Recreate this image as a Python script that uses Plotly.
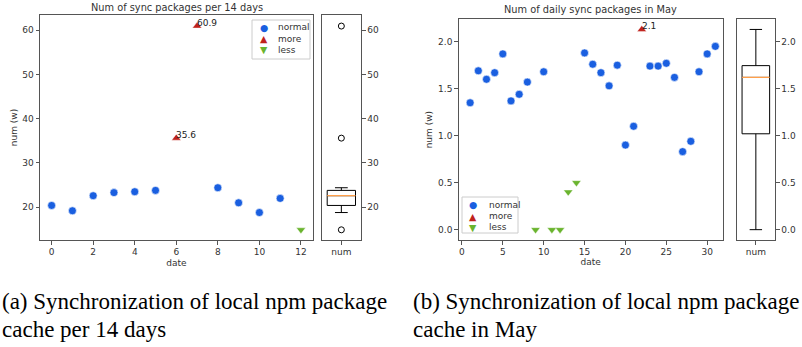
import numpy as np
import plotly.graph_objects as go

W, H = 802, 347

# ---- data: (a) per 14 days ----
a_normal_x = [0, 1, 2, 3, 4, 5, 8, 9, 10, 11]
a_normal_y = [20.4, 19.2, 22.6, 23.3, 23.5, 23.8, 24.4, 21.0, 18.8, 22.0]
a_more_x = [6, 7]
a_more_y = [35.6, 60.9]
a_less_x = [12]
a_less_y = [14.9]

# ---- data: (b) daily in May ----
b_normal_x = [1, 2, 3, 4, 5, 6, 7, 8, 10, 15, 16, 17, 18, 19, 20, 21, 23, 24, 25, 26, 27, 28, 29, 30, 31]
b_normal_y = [1.35, 1.69, 1.60, 1.67, 1.87, 1.37, 1.44, 1.57, 1.68, 1.88, 1.76, 1.67, 1.53, 1.75,
              0.90, 1.10, 1.74, 1.74, 1.77, 1.62, 0.83, 0.94, 1.68, 1.87, 1.95]
b_more_x = [22]
b_more_y = [2.13]
b_less_x = [9, 11, 12, 13, 14]
b_less_y = [0.0, 0.0, 0.0, 0.40, 0.50]

a_ticks_x = [0, 2, 4, 6, 8, 10, 12]
a_ticks_y = [20, 30, 40, 50, 60]
b_ticks_x = [0, 5, 10, 15, 20, 25, 30]
b_ticks_y = [0.0, 0.5, 1.0, 1.5, 2.0]

title_a = "Num of sync packages per 14 days"
title_b = "Num of daily sync packages in May"
cap_a = ["(a) Synchronization of local npm package", "cache per 14 days"]
cap_b = ["(b) Synchronization of local npm package", "cache in May"]
series_names = ["normal", "more", "less"]

BLUE = "#1a5fe0"
RED = "#c0221c"
GREEN = "#6ab42e"
COLORS = [BLUE, RED, GREEN]
GLYPHS = ["\u25CF", "\u25B2", "\u25BC"]
AX = "#555555"
TXT = "#333333"
FONT = "DejaVu Sans"


def px(x):
    return x / W


def py(y):
    return 1 - y / H


fig = go.Figure()


def scatter_set(xa, ya, nx, ny, mx, my, lx, ly):
    fig.add_trace(go.Scatter(x=nx, y=ny, mode="markers", name="normal", xaxis=xa, yaxis=ya,
                             marker=dict(symbol="circle", size=8, color=BLUE,
                                         line=dict(color="white", width=0.6))))
    fig.add_trace(go.Scatter(x=mx, y=my, mode="markers", name="more", xaxis=xa, yaxis=ya,
                             marker=dict(symbol="triangle-up", size=8, color=RED,
                                         line=dict(color="white", width=0.4))))
    fig.add_trace(go.Scatter(x=lx, y=ly, mode="markers", name="less", xaxis=xa, yaxis=ya,
                             marker=dict(symbol="triangle-down", size=8, color=GREEN,
                                         line=dict(color="white", width=0.4))))
    for x, y in zip(mx, my):
        fig.add_annotation(x=x, y=y, xref=xa, yref=ya, text=f"{y:.1f}", showarrow=False,
                           xanchor="left", yanchor="middle", xshift=-2, yshift=3,
                           font=dict(size=9, color="#222", family=FONT))


def box_set(xa, ya, values):
    vals = np.array(values, dtype=float)
    q1, med, q3 = np.percentile(vals, [25, 50, 75])
    iqr = q3 - q1
    inside = vals[(vals >= q1 - 1.5 * iqr) & (vals <= q3 + 1.5 * iqr)]
    lf, uf = inside.min(), inside.max()
    out = vals[(vals < lf) | (vals > uf)]
    fig.add_trace(go.Box(x=[0], q1=[q1], median=[med], q3=[q3], lowerfence=[lf], upperfence=[uf],
                         xaxis=xa, yaxis=ya, width=0.72, whiskerwidth=0.45, boxpoints=False,
                         showlegend=False, fillcolor="rgba(255,255,255,0)",
                         line=dict(color="black", width=1), hoverinfo="skip"))
    fig.add_trace(go.Scatter(x=[-0.36, 0.36], y=[med, med], mode="lines", xaxis=xa, yaxis=ya,
                             line=dict(color="#ff9f4a", width=1.3), showlegend=False,
                             hoverinfo="skip"))
    if len(out):
        fig.add_trace(go.Scatter(x=[0] * len(out), y=out, mode="markers", xaxis=xa, yaxis=ya,
                                 showlegend=False, hoverinfo="skip",
                                 marker=dict(symbol="circle-open", size=6, color="black",
                                             line=dict(width=1))))


def legend_box(x0, y0, x1, y1, mx, tx, rows):
    fig.add_shape(type="rect", xref="paper", yref="paper", x0=px(x0), x1=px(x1),
                  y0=py(y1), y1=py(y0), line=dict(color="#cccccc", width=1),
                  fillcolor="white", layer="below")
    for g, c, name, ry in zip(GLYPHS, COLORS, series_names, rows):
        fig.add_annotation(x=px(mx), y=py(ry), xref="paper", yref="paper", text=g,
                           showarrow=False, xanchor="center", yanchor="middle",
                           font=dict(size=9.5, color=c, family=FONT))
        fig.add_annotation(x=px(tx), y=py(ry), xref="paper", yref="paper", text=name,
                           showarrow=False, xanchor="left", yanchor="middle",
                           font=dict(size=9, color=TXT, family=FONT))


scatter_set("x", "y", a_normal_x, a_normal_y, a_more_x, a_more_y, a_less_x, a_less_y)
box_set("x2", "y2", a_normal_y + a_more_y + a_less_y)
scatter_set("x3", "y3", b_normal_x, b_normal_y, b_more_x, b_more_y, b_less_x, b_less_y)
box_set("x4", "y4", b_normal_y + b_more_y + b_less_y)

legend_box(252, 20, 310, 59, 264, 276, [27.5, 39, 50])
legend_box(462, 197, 518, 233, 473, 487, [204.5, 216, 227.5])

common = dict(showline=True, mirror=True, linecolor=AX, linewidth=1, ticks="outside",
              ticklen=3.5, tickcolor=AX, tickwidth=1, showgrid=False, zeroline=False,
              tickfont=dict(size=9, color=TXT, family=FONT))

ya_rng = [12.6, 63.4]
yb_rng = [-0.11, 2.238]

fig.update_layout(
    width=W, height=H, margin=dict(l=0, r=0, t=0, b=0),
    paper_bgcolor="white", plot_bgcolor="white",
    font=dict(family=FONT, color=TXT),
    showlegend=False,
    xaxis=dict(domain=[px(40), px(313)], range=[-0.56, 12.58], tickvals=a_ticks_x,
               title=dict(text="date", font=dict(size=9), standoff=3), anchor="y", **common),
    yaxis=dict(domain=[py(240), py(15)], range=ya_rng, tickvals=a_ticks_y, anchor="x",
               title=dict(text="num (w)", font=dict(size=9), standoff=3), **common),
    xaxis2=dict(domain=[px(321.7), px(361)], range=[-0.5, 0.5], tickvals=[0], ticktext=["num"],
                anchor="y2", **common),
    yaxis2=dict(domain=[py(240), py(15)], range=ya_rng, tickvals=a_ticks_y, side="right",
                anchor="x2", **common),
    xaxis3=dict(domain=[px(458.7), px(722.7)], range=[-0.4, 31.9], tickvals=b_ticks_x,
                title=dict(text="date", font=dict(size=9), standoff=2), anchor="y3", **common),
    yaxis3=dict(domain=[py(240), py(19.3)], range=yb_rng, tickvals=b_ticks_y, tickformat=".1f",
                anchor="x3", title=dict(text="num (w)", font=dict(size=9), standoff=3), **common),
    xaxis4=dict(domain=[px(736.7), px(775)], range=[-0.5, 0.5], tickvals=[0], ticktext=["num"],
                anchor="y4", **common),
    yaxis4=dict(domain=[py(240), py(19.3)], range=yb_rng, tickvals=b_ticks_y, tickformat=".1f",
                side="right", anchor="x4", **common),
)

# titles
fig.add_annotation(x=px(176.5), y=py(7), xref="paper", yref="paper", text=title_a,
                   showarrow=False, xanchor="center", yanchor="middle",
                   font=dict(size=9.8, color=TXT, family=FONT))
fig.add_annotation(x=px(590.7), y=py(10), xref="paper", yref="paper", text=title_b,
                   showarrow=False, xanchor="center", yanchor="middle",
                   font=dict(size=9.8, color=TXT, family=FONT))

# captions
for i, ya_pix in enumerate([301, 329]):
    fig.add_annotation(x=px(0), y=py(ya_pix), xref="paper", yref="paper", text=cap_a[i],
                       showarrow=False, xanchor="left", yanchor="middle",
                       font=dict(size=23, color="black", family="Liberation Serif"))
    fig.add_annotation(x=px(411), y=py(ya_pix), xref="paper", yref="paper", text=cap_b[i],
                       showarrow=False, xanchor="left", yanchor="middle",
                       font=dict(size=23, color="black", family="Liberation Serif"))

fig.write_html("out.html", config={"displayModeBar": False},
               post_script="document.body.style.margin='0';")
